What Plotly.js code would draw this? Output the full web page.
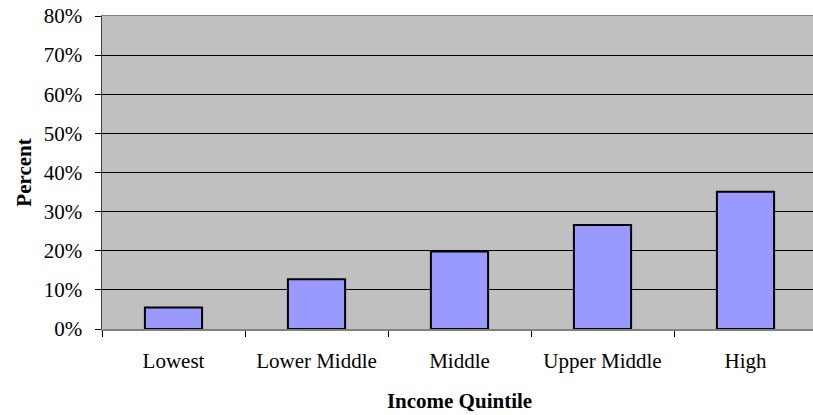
<!DOCTYPE html>
<html>
<head>
<meta charset="utf-8">
<script src="https://cdn.plot.ly/plotly-3.0.1.min.js"></script>
<style>
html, body { margin: 0; padding: 0; overflow: hidden; background: #fff; }
#chart { width: 820px; height: 415px; }
</style>
</head>
<body>
<div id="chart"></div>
<script>
const categories = ["Lowest", "Lower Middle", "Middle", "Upper Middle", "High"];
const percentValues = [0.055, 0.127, 0.198, 0.266, 0.351];
const yTickValues = [0, 0.1, 0.2, 0.3, 0.4, 0.5, 0.6, 0.7, 0.8];

const fontFamily = '"Liberation Serif", "Times New Roman", Times, serif';

const trace = {
  type: 'bar',
  x: categories,
  y: percentValues,
  width: 0.4,
  marker: { color: '#9999FF', line: { color: '#000000', width: 2 } },
  hoverinfo: 'x+y'
};

const layout = {
  width: 820,
  height: 415,
  margin: { l: 102, r: 3, t: 16, b: 86 },
  paper_bgcolor: '#ffffff',
  plot_bgcolor: '#C0C0C0',
  showlegend: false,
  font: { family: fontFamily, size: 21, color: '#000000' },
  xaxis: {
    type: 'category',
    range: [-0.5, 4.5],
    showgrid: false,
    zeroline: false,
    showline: true,
    linecolor: '#808080',
    linewidth: 1.5,
    mirror: true,
    ticks: 'outside',
    tickson: 'boundaries',
    ticklen: 6,
    tickcolor: '#000000',
    tickwidth: 1,
    tickfont: { family: fontFamily, size: 21, color: '#000000' },
    ticklabelstandoff: 12,
    title: { text: '<b>Income Quintile</b>', font: { family: fontFamily, size: 21, color: '#000000' }, standoff: 21 }
  },
  yaxis: {
    range: [0, 0.8],
    tickvals: yTickValues,
    tickformat: '.0%',
    showgrid: true,
    gridcolor: '#000000',
    gridwidth: 1,
    zeroline: false,
    showline: true,
    linecolor: '#404040',
    linewidth: 1.5,
    ticks: 'outside',
    ticklen: 6,
    tickcolor: '#000000',
    tickwidth: 1,
    tickfont: { family: fontFamily, size: 21, color: '#000000' },
    ticklabelstandoff: 8,
    title: { text: '<b>Percent</b>', font: { family: fontFamily, size: 21, color: '#000000' }, standoff: 6 }
  }
};

Plotly.newPlot('chart', [trace], layout, { displayModeBar: false, staticPlot: true });
</script>
</body>
</html>
